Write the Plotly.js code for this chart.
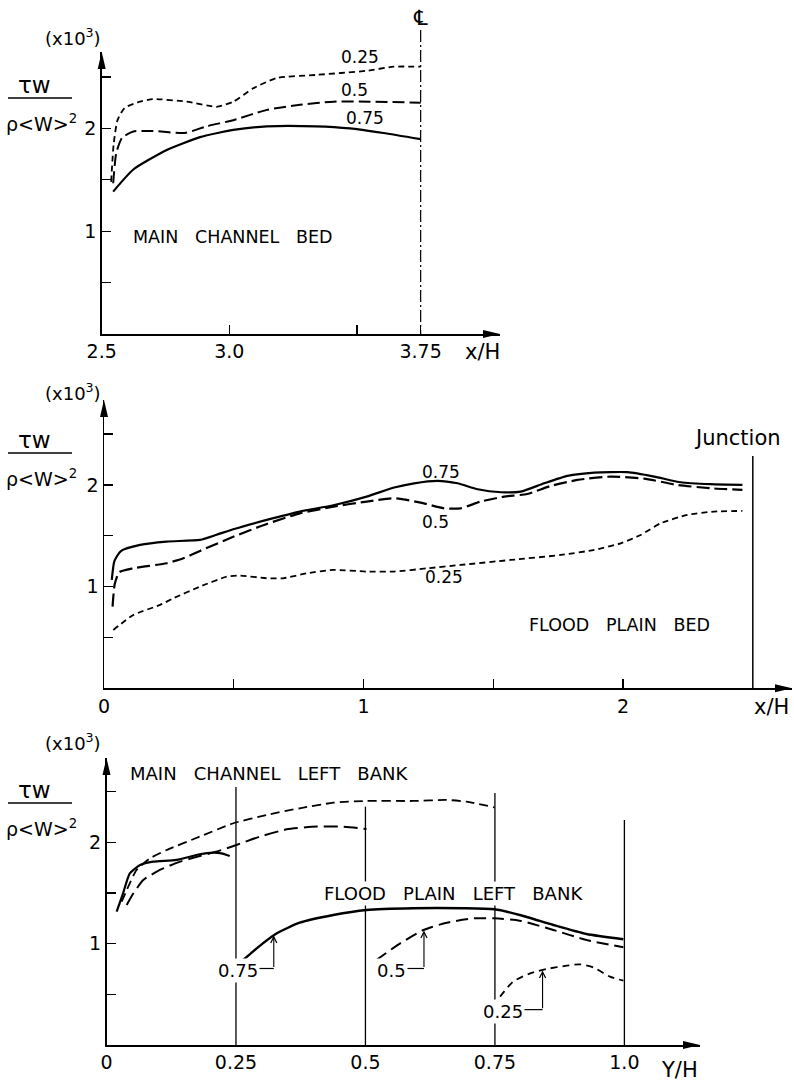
<!DOCTYPE html>
<html><head><meta charset="utf-8">
<script src="https://cdn.plot.ly/plotly-3.0.1.min.js"></script>
<style>html,body{margin:0;padding:0;background:#fff}</style>
</head><body><div id="chart" style="width:794px;height:1082px"></div>
<script>
// ===== Panel 1: MAIN CHANNEL BED (x/H) =====
const mcbX025 = [2.537, 2.547, 2.562, 2.59, 2.65, 2.70, 2.833, 2.95, 3.016, 3.094, 3.186, 3.34, 3.538, 3.643, 3.75];
const mcbY025 = [1.48, 1.85, 2.08, 2.20, 2.26, 2.285, 2.26, 2.21, 2.26, 2.39, 2.49, 2.52, 2.56, 2.60, 2.60];
const mcbX05 = [2.545, 2.557, 2.58, 2.624, 2.70, 2.826, 2.911, 3.016, 3.147, 3.277, 3.408, 3.55, 3.75];
const mcbY05 = [1.466, 1.76, 1.91, 1.97, 1.975, 1.955, 2.02, 2.08, 2.18, 2.23, 2.26, 2.26, 2.25];
const mcbX075 = [2.545, 2.624, 2.755, 2.885, 3.016, 3.147, 3.34, 3.473, 3.604, 3.75];
const mcbY075 = [1.385, 1.60, 1.79, 1.915, 1.985, 2.02, 2.02, 2.0, 1.955, 1.895];
const mcbLabels = ['0.25', '0.5', '0.75'];
const mcbLabelX = [3.512, 3.492, 3.531];
const mcbLabelY = [2.695, 2.374, 2.10];
const p1TickVals = [2.5, 3.0, 3.5, 3.75];
const p1TickText = ['2.5', '3.0', '', '3.75'];
const centerLineX = 3.75;

// ===== Panel 2: FLOOD PLAIN BED (x/H) =====
const fpbX075 = [0.030, 0.040, 0.065, 0.139, 0.241, 0.37, 0.434, 0.498, 0.627, 0.755, 0.884, 1.012, 1.118, 1.195, 1.285, 1.362, 1.44, 1.53, 1.606, 1.696, 1.786, 1.889, 2.017, 2.12, 2.222, 2.338, 2.46];
const fpbY075 = [1.066, 1.25, 1.35, 1.41, 1.443, 1.46, 1.51, 1.564, 1.656, 1.738, 1.80, 1.885, 1.975, 2.016, 2.04, 2.016, 1.957, 1.928, 1.934, 2.016, 2.089, 2.121, 2.125, 2.082, 2.026, 2.007, 2.0];
const fpbX05 = [0.033, 0.041, 0.058, 0.113, 0.241, 0.306, 0.37, 0.498, 0.627, 0.755, 0.884, 1.012, 1.118, 1.22, 1.31, 1.374, 1.451, 1.541, 1.631, 1.721, 1.824, 1.952, 2.081, 2.209, 2.338, 2.46];
const fpbY05 = [0.803, 1.02, 1.14, 1.18, 1.23, 1.279, 1.351, 1.49, 1.616, 1.72, 1.787, 1.836, 1.869, 1.826, 1.77, 1.77, 1.836, 1.885, 1.911, 1.99, 2.049, 2.082, 2.062, 2.0, 1.967, 1.951];
const fpbX025 = [0.036, 0.113, 0.216, 0.267, 0.37, 0.473, 0.524, 0.627, 0.691, 0.781, 0.884, 1.012, 1.118, 1.246, 1.374, 1.567, 1.76, 1.889, 1.991, 2.068, 2.145, 2.248, 2.35, 2.46];
const fpbY025 = [0.574, 0.721, 0.82, 0.885, 1.0, 1.098, 1.108, 1.082, 1.082, 1.131, 1.164, 1.148, 1.148, 1.18, 1.213, 1.262, 1.311, 1.361, 1.426, 1.508, 1.623, 1.705, 1.738, 1.744];
const fpbLabels = ['0.75', '0.5', '0.25'];
const fpbLabelX = [1.297, 1.278, 1.31];
const fpbLabelY = [2.131, 1.639, 1.092];
const p2TickVals = [0, 0.5, 1, 1.5, 2];
const p2TickText = ['0', '', '1', '', '2'];
const junctionX = 2.5;
const junctionTopY = 2.284;

// ===== Panel 3: LEFT BANKS (Y/H) =====
const mclbX075 = [0.0196, 0.032, 0.045, 0.065, 0.09, 0.135, 0.18, 0.206, 0.222, 0.238];
const mclbY075 = [1.316, 1.497, 1.694, 1.776, 1.809, 1.826, 1.882, 1.898, 1.891, 1.865];
const mclbX05 = [0.039, 0.052, 0.071, 0.103, 0.142, 0.18, 0.212, 0.251, 0.296, 0.348, 0.406, 0.451, 0.502];
const mclbY05 = [1.382, 1.497, 1.628, 1.727, 1.809, 1.865, 1.908, 1.974, 2.056, 2.128, 2.155, 2.155, 2.132];
const mclbX025 = [0.0293, 0.042, 0.058, 0.084, 0.116, 0.18, 0.245, 0.309, 0.373, 0.438, 0.502, 0.592, 0.657, 0.695, 0.749];
const mclbY025 = [1.414, 1.563, 1.727, 1.842, 1.924, 2.056, 2.188, 2.27, 2.336, 2.391, 2.408, 2.408, 2.418, 2.401, 2.345];
const fplbX075 = [0.264, 0.29, 0.329, 0.373, 0.438, 0.502, 0.592, 0.689, 0.749, 0.798, 0.863, 0.927, 0.998];
const fplbY075 = [0.839, 0.954, 1.102, 1.207, 1.283, 1.332, 1.349, 1.349, 1.339, 1.283, 1.184, 1.095, 1.043];
const fplbX05 = [0.521, 0.567, 0.612, 0.657, 0.709, 0.749, 0.798, 0.863, 0.927, 0.998];
const fplbY05 = [0.839, 1.003, 1.135, 1.207, 1.25, 1.25, 1.227, 1.135, 1.036, 0.964];
const fplbX025 = [0.76, 0.785, 0.818, 0.85, 0.889, 0.914, 0.94, 0.972, 0.998];
const fplbY025 = [0.477, 0.625, 0.707, 0.75, 0.783, 0.796, 0.766, 0.674, 0.635];
const bankLabels = ['0.75', '0.5', '0.25'];
const bankLabelX = [0.254, 0.551, 0.765];
const bankLabelY = [0.735, 0.735, 0.329];
const bankLeaderStartX = [0.293, 0.58, 0.805];
const bankLeaderX = [0.323, 0.613, 0.842];
const bankLeaderTipY = [1.08, 1.13, 0.735];
const stationX = [0.25, 0.5, 0.75, 1.0];
const stationTopY = [2.546, 2.352, 2.487, 2.22];
const p3TickVals = [0, 0.25, 0.5, 0.75, 1.0];
const p3TickText = ['0', '0.25', '0.5', '0.75', '1.0'];

const yTickVals = [0.5, 1, 1.5, 2, 2.5];
const yTickText = ['', '1', '', '2', ''];

// ---------- layout geometry (pixels) ----------
const W = 794, H = 1082;
const fx = p => p / W, fy = p => 1 - p / H;
const FONT = 'DejaVu Sans';
const x1Range = [2.5, 4.061], y1Range = [0, 2.743];
const x2Range = [0, 2.651], y2Range = [0, 2.835];
const x3Range = [0, 1.146], y3Range = [0, 2.832];

const SOLID = 'solid', LONG = '12px,5px', SHORT = '6px,4px', MED = '9px,5px';
function curve(x, y, xa, ya, dash, width) {
  return {type: 'scatter', mode: 'lines', x: x, y: y, xaxis: xa, yaxis: ya,
    line: {color: 'black', width: width, dash: dash, shape: 'spline', smoothing: 0.55},
    hoverinfo: 'skip', showlegend: false, cliponaxis: false};
}
const traces = [
  curve(mcbX025, mcbY025, 'x', 'y', SHORT, 1.8),
  curve(mcbX05, mcbY05, 'x', 'y', LONG, 2),
  curve(mcbX075, mcbY075, 'x', 'y', SOLID, 2.2),
  curve(fpbX075, fpbY075, 'x2', 'y2', SOLID, 2.2),
  curve(fpbX05, fpbY05, 'x2', 'y2', '13px,5px', 2.2),
  curve(fpbX025, fpbY025, 'x2', 'y2', SHORT, 1.8),
  curve(mclbX075, mclbY075, 'x3', 'y3', SOLID, 2.2),
  curve(mclbX05, mclbY05, 'x3', 'y3', '14px,6px', 2),
  curve(mclbX025, mclbY025, 'x3', 'y3', MED, 1.8),
  curve(fplbX075, fplbY075, 'x3', 'y3', SOLID, 2.4),
  curve(fplbX05, fplbY05, 'x3', 'y3', '12px,6px', 2),
  curve(fplbX025, fplbY025, 'x3', 'y3', '7px,5px', 1.8)
];

const axBase = {showline: true, linecolor: 'black', linewidth: 1.5, ticks: 'inside', ticklen: 9,
  tickwidth: 1.3, tickcolor: 'black', showgrid: false, zeroline: false, fixedrange: true,
  tickfont: {family: FONT, size: 19, color: 'black'}, tickmode: 'array'};
function ax(o) { return Object.assign({}, axBase, o); }

const annotations = [];
const shapes = [];
function txt(text, x, y, xref, yref, size, extra) {
  annotations.push(Object.assign({text: text, x: x, y: y, xref: xref, yref: yref, showarrow: false,
    font: {family: FONT, size: size, color: 'black'}, xanchor: 'center', yanchor: 'middle'}, extra || {}));
}
// axis arrowheads (pixel-size triangles anchored at axis ends)
function arrowUp(xd, yd) {
  shapes.push({type: 'path', xref: xd, yref: yd, xsizemode: 'pixel', ysizemode: 'pixel', xanchor: 0, yanchor: 1,
    path: 'M0,0 L-4,-17 L4,-17 Z', fillcolor: 'black', line: {width: 0}});
}
function arrowRight(xd, yd) {
  shapes.push({type: 'path', xref: xd, yref: yd, xsizemode: 'pixel', ysizemode: 'pixel', xanchor: 1, yanchor: 0,
    path: 'M0,0 L-17,4 L-17,-4 Z', fillcolor: 'black', line: {width: 0}});
}
arrowUp('x domain', 'y domain'); arrowRight('x domain', 'y domain');
arrowUp('x2 domain', 'y2 domain'); arrowRight('x2 domain', 'y2 domain');
arrowUp('x3 domain', 'y3 domain'); arrowRight('x3 domain', 'y3 domain');

// y-axis titles: tau_w / rho<W>^2 and (x10^3)
function yTitle(topPx) {
  txt('(x10<sup>3</sup>)', fx(73), fy(topPx), 'paper', 'paper', 18);
  txt('τw', fx(34), fy(topPx + 48), 'paper', 'paper', 23);
  shapes.push({type: 'line', xref: 'paper', yref: 'paper', x0: fx(8), x1: fx(72), y0: fy(topPx + 61), y1: fy(topPx + 61), line: {color: 'black', width: 1.5}});
  txt('ρ&lt;W&gt;<sup>2</sup>', fx(41), fy(topPx + 86), 'paper', 'paper', 19);
}
yTitle(37); yTitle(392); yTitle(742);

const SP = '\u00A0\u00A0 ';
// Panel 1 text
mcbLabels.forEach((t, i) => txt(t, mcbLabelX[i], mcbLabelY[i], 'x', 'y', 17));
txt('MAIN' + SP + 'CHANNEL' + SP + 'BED', 3.015, 0.94, 'x', 'y', 17.5);
txt('x/H', fx(482), fy(352), 'paper', 'paper', 21);
txt('℄', centerLineX, fy(18), 'x', 'paper', 21);
shapes.push({type: 'line', xref: 'x domain', yref: 'paper',
  x0: (centerLineX - x1Range[0]) / (x1Range[1] - x1Range[0]), x1: (centerLineX - x1Range[0]) / (x1Range[1] - x1Range[0]),
  y0: fy(30), y1: fy(334), line: {color: 'black', width: 1.2, dash: '12px,3px,2px,3px'}});

// Panel 2 text
fpbLabels.forEach((t, i) => txt(t, fpbLabelX[i], fpbLabelY[i], 'x2', 'y2', 17));
txt('FLOOD' + SP + 'PLAIN' + SP + 'BED', 1.987, 0.623, 'x2', 'y2', 17.5);
txt('Junction', 2.44, 2.46, 'x2', 'y2', 21);
txt('x/H', fx(771), fy(707), 'paper', 'paper', 21);
shapes.push({type: 'line', xref: 'x2', yref: 'y2', x0: junctionX, x1: junctionX, y0: 0, y1: junctionTopY, line: {color: 'black', width: 1.5}});

// Panel 3 station lines and text
stationX.forEach((s, i) => shapes.push({type: 'line', xref: 'x3', yref: 'y3', x0: s, x1: s, y0: 0, y1: stationTopY[i], line: {color: 'black', width: 1.3}}));
txt('MAIN' + SP + 'CHANNEL' + SP + 'LEFT' + SP + 'BANK', 0.314, 2.68, 'x3', 'y3', 18);
txt('FLOOD' + SP + 'PLAIN' + SP + 'LEFT' + SP + 'BANK', 0.67, 1.497, 'x3', 'y3', 18, {bgcolor: 'white'});
bankLabels.forEach((t, i) => {
  txt(t, bankLabelX[i], bankLabelY[i], 'x3', 'y3', 18, {bgcolor: 'white'});
  shapes.push({type: 'line', xref: 'x3', yref: 'y3', x0: bankLeaderStartX[i], x1: bankLeaderX[i], y0: bankLabelY[i] + 0.02, y1: bankLabelY[i] + 0.02, line: {color: 'black', width: 1.2}});
  annotations.push({text: '', x: bankLeaderX[i], y: bankLeaderTipY[i], ax: bankLeaderX[i], ay: bankLabelY[i] + 0.02,
    xref: 'x3', yref: 'y3', axref: 'x3', ayref: 'y3', showarrow: true, arrowhead: 5, arrowsize: 1.1, arrowwidth: 1.1, arrowcolor: 'black'});
});
txt('Y/H', fx(679), fy(1070), 'paper', 'paper', 21);

const layout = {
  width: W, height: H, margin: {l: 0, r: 0, t: 0, b: 0}, paper_bgcolor: 'white', plot_bgcolor: 'rgba(0,0,0,0)',
  showlegend: false, font: {family: FONT, color: 'black'},
  xaxis: ax({domain: [fx(101.7), fx(500)], range: x1Range, anchor: 'y', tickvals: p1TickVals, ticktext: p1TickText}),
  yaxis: ax({domain: [fy(334), fy(52)], range: y1Range, anchor: 'x', tickvals: yTickVals, ticktext: yTickText}),
  xaxis2: ax({domain: [fx(104), fx(792)], range: x2Range, anchor: 'y2', tickvals: p2TickVals, ticktext: p2TickText}),
  yaxis2: ax({domain: [fy(688.3), fy(400)], range: y2Range, anchor: 'x2', tickvals: yTickVals, ticktext: yTickText}),
  xaxis3: ax({domain: [fx(106.5), fx(700)], range: x3Range, anchor: 'y3', tickvals: p3TickVals, ticktext: p3TickText, ticks: ''}),
  yaxis3: ax({domain: [fy(1045), fy(758)], range: y3Range, anchor: 'x3', tickvals: yTickVals, ticktext: yTickText}),
  annotations: annotations, shapes: shapes
};
Plotly.newPlot('chart', traces, layout, {staticPlot: true, displayModeBar: false});
</script></body></html>
